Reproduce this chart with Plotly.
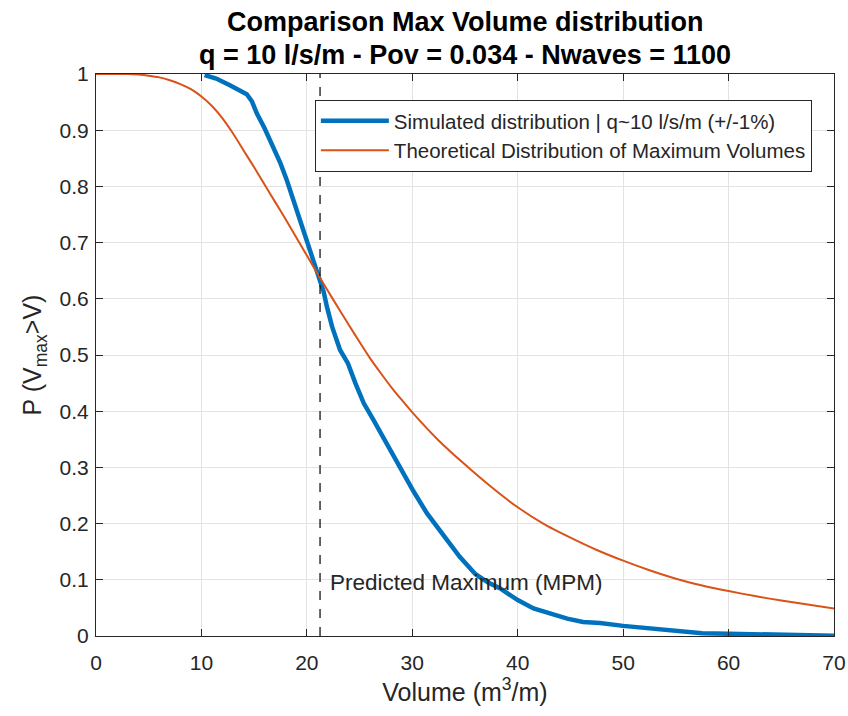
import plotly.graph_objects as go

# Simulated (empirical) exceedance distribution
sim_x = [10.3, 11.4, 12.7, 13.7, 14.3, 14.8, 15.25, 16.0, 16.8, 17.5, 18.1, 18.7,
         19.35, 20.0, 20.6, 21.2, 21.6, 21.9, 22.4, 23.15, 23.9, 24.6, 25.4, 26.3,
         27.2, 28.0, 28.8, 30.1, 31.4, 33.0, 34.5, 36.0, 37.2, 38.3, 40.0, 41.5,
         43.1, 44.7, 46.2, 47.8, 50.0, 52.6, 55.4, 57.5, 60.0, 63.0, 66.5, 70.0]
sim_p = [0.998, 0.992, 0.980, 0.971, 0.964, 0.951, 0.930, 0.903, 0.871, 0.841, 0.811, 0.776,
         0.738, 0.700, 0.665, 0.630, 0.612, 0.586, 0.550, 0.509, 0.485, 0.450, 0.414, 0.385,
         0.355, 0.325, 0.298, 0.258, 0.218, 0.177, 0.141, 0.110, 0.095, 0.085, 0.064, 0.049,
         0.040, 0.031, 0.025, 0.023, 0.018, 0.014, 0.008, 0.005, 0.004, 0.003, 0.001, 0.0005]

# Theoretical distribution of maximum volumes
theo_x = [0, 3, 4, 5, 6, 7, 8, 9, 10, 11, 12, 13, 14, 15, 16, 17, 18, 19, 20, 21, 22,
          23, 24, 25, 26, 27, 28, 29, 30, 32.5, 35, 37.5, 40, 42.5, 45, 47.5, 50, 52.5,
          55, 57.5, 60, 62.5, 65, 67.5, 70]
theo_p = [1.0, 1.0, 0.999, 0.997, 0.994, 0.989, 0.982, 0.973, 0.960, 0.943, 0.921, 0.894,
          0.864, 0.834, 0.803, 0.772, 0.741, 0.709, 0.677, 0.645, 0.614, 0.583, 0.553,
          0.523, 0.494, 0.468, 0.443, 0.420, 0.398, 0.348, 0.305, 0.265, 0.229, 0.199,
          0.175, 0.153, 0.134, 0.117, 0.102, 0.090, 0.080, 0.071, 0.063, 0.056, 0.049]

mpm_x = 21.25
mpm_label = "Predicted Maximum (MPM)"
title_lines = ["Comparison Max Volume distribution",
               "q = 10 l/s/m - Pov = 0.034 - Nwaves = 1100"]
x_ticks = [0, 10, 20, 30, 40, 50, 60, 70]
y_ticks = [0, 0.1, 0.2, 0.3, 0.4, 0.5, 0.6, 0.7, 0.8, 0.9, 1]
y_ticktext = ["0", "0.1", "0.2", "0.3", "0.4", "0.5", "0.6", "0.7", "0.8", "0.9", "1"]

FONT = "Liberation Sans, Arial, Helvetica, sans-serif"
AX = "#262626"

fig = go.Figure()
fig.add_trace(go.Scatter(x=sim_x, y=sim_p, mode="lines",
                         name="Simulated distribution | q~10 l/s/m (+/-1%)",
                         line=dict(color="#0072BD", width=4.5)))
fig.add_trace(go.Scatter(x=theo_x, y=theo_p, mode="lines",
                         name="Theoretical Distribution of Maximum Volumes",
                         line=dict(color="#D95319", width=2, shape="spline", smoothing=0.6)))

fig.add_shape(type="line", x0=mpm_x, x1=mpm_x, y0=0, y1=1, xref="x", yref="y",
              line=dict(color="black", width=1.2, dash="dash"), layer="above")
fig.add_annotation(x=mpm_x + 0.8, y=0.096, text=mpm_label, showarrow=False,
                   xanchor="left", yanchor="middle",
                   font=dict(family=FONT, size=22.5, color=AX))

# Two-line bold title
for txt, ypix in zip(title_lines, [22, 55]):
    fig.add_annotation(x=0.5, y=(636 - ypix) / 562, xref="paper", yref="paper",
                       text="<b>" + txt + "</b>", showarrow=False,
                       xanchor="center", yanchor="middle",
                       font=dict(family=FONT, size=27, color="black"))

fig.update_layout(
    width=848, height=716,
    margin=dict(l=96, r=14, t=74, b=80, autoexpand=False),
    paper_bgcolor="white", plot_bgcolor="white",
    font=dict(family=FONT, size=21, color=AX),
    legend=dict(x=0.970, y=0.954, xanchor="right", yanchor="top",
                bgcolor="white", bordercolor=AX, borderwidth=1,
                font=dict(family=FONT, size=20.5, color=AX),
                itemwidth=68, tracegroupgap=0),
    showlegend=True,
)
fig.update_xaxes(range=[0, 70], tickvals=x_ticks, ticktext=[str(v) for v in x_ticks],
                 showgrid=True, gridcolor="#e3e3e3", gridwidth=1, automargin=False,
                 showline=True, linecolor=AX, linewidth=1, mirror="ticks",
                 ticks="inside", ticklen=7, tickcolor=AX, zeroline=False,
                 tickfont=dict(size=21, color=AX), ticklabelstandoff=8,
                 title=dict(text="Volume (m<sup>3</sup>/m)", font=dict(size=25, color=AX), standoff=8))
fig.update_yaxes(range=[0, 1], tickvals=y_ticks, ticktext=y_ticktext,
                 showgrid=True, gridcolor="#e3e3e3", gridwidth=1, automargin=False,
                 showline=True, linecolor=AX, linewidth=1, mirror="ticks",
                 ticks="inside", ticklen=7, tickcolor=AX, zeroline=False,
                 tickfont=dict(size=21, color=AX), ticklabelstandoff=2,
                 title=dict(text="P (V<sub>max</sub>>V)", font=dict(size=25, color=AX), standoff=10))

fig.write_html("out.html")
